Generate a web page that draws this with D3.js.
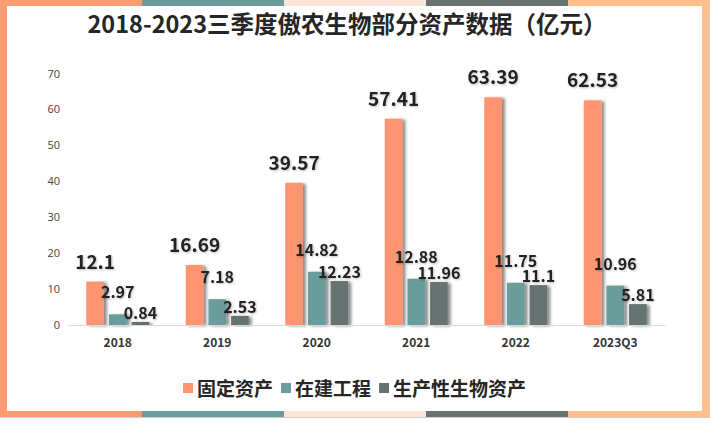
<!DOCTYPE html>
<html>
<head>
<meta charset="utf-8">
<script src="https://cdn.jsdelivr.net/npm/d3@7"></script>
<style>
  html, body { margin: 0; padding: 0; background: #fff; }
  svg { display: block; }
  text { font-family: "Noto Sans CJK SC", "Noto Sans", sans-serif; }
</style>
</head>
<body>
<svg id="chart" width="710" height="425"></svg>
<script>
const categories = ['2018', '2019', '2020', '2021', '2022', '2023Q3'];
const fixedAssets = [12.1, 16.69, 39.57, 57.41, 63.39, 62.53];
const construction = [2.97, 7.18, 14.82, 12.88, 11.75, 10.96];
const bioAssets = [0.84, 2.53, 12.23, 11.96, 11.1, 5.81];
const seriesNames = ['固定资产', '在建工程', '生产性生物资产'];
const yTicks = [0, 10, 20, 30, 40, 50, 60, 70];
const titleText = '2018-2023三季度傲农生物部分资产数据（亿元）';

const colors = ['#FF956F', '#699C9A', '#667371'];
const stripeColors = ['#FF9A73', '#699C9A', '#FCE4D6', '#667371', '#FFBF8C'];
const seriesValues = [fixedAssets, construction, bioAssets];

const svg = d3.select('#chart');

// defs: shadow
const defs = svg.append('defs');
const f = defs.append('filter').attr('id', 'shadow').attr('x', '-30%').attr('y', '-10%').attr('width', '180%').attr('height', '130%');
f.append('feDropShadow').attr('dx', 3).attr('dy', 1).attr('stdDeviation', 1.6)
  .attr('flood-color', '#000').attr('flood-opacity', 0.45);
const tf = defs.append('filter').attr('id', 'tshadow').attr('x', '-10%').attr('y', '-20%').attr('width', '130%').attr('height', '150%');
tf.append('feDropShadow').attr('dx', 1).attr('dy', 1).attr('stdDeviation', 0.8)
  .attr('flood-color', '#000').attr('flood-opacity', 0.25);

// frame
svg.append('rect').attr('x', 0).attr('y', 0).attr('width', 710).attr('height', 425).attr('fill', '#fff');
svg.append('rect').attr('x', 0.5).attr('y', 0.5).attr('width', 709).attr('height', 417)
  .attr('fill', 'none').attr('stroke', '#cfcfcf').attr('stroke-width', 1);
const segW = 710 / stripeColors.length;
stripeColors.forEach((c, i) => {
  svg.append('rect').attr('x', i * segW).attr('y', 0).attr('width', segW).attr('height', 6).attr('fill', c);
  svg.append('rect').attr('x', i * segW).attr('y', 411).attr('width', segW).attr('height', 6).attr('fill', c);
});
svg.append('rect').attr('x', 0).attr('y', 0).attr('width', 7).attr('height', 417).attr('fill', stripeColors[0]);
svg.append('rect').attr('x', 702).attr('y', 0).attr('width', 7).attr('height', 417).attr('fill', stripeColors[4]);

// title
const title = svg.append('text')
  .attr('x', 347).attr('y', 33)
  .attr('text-anchor', 'middle')
  .attr('font-size', 24).attr('font-weight', 'bold').attr('fill', '#262626')
  .text(titleText);
const tw = title.node().getComputedTextLength();
if (Math.abs(tw - 519) > 4) {
  title.attr('textLength', 519).attr('lengthAdjust', 'spacingAndGlyphs');
}

// scales
const x0 = d3.scaleBand().domain(categories).range([68, 665]).padding(0);
const groupW = 63;
const x1 = d3.scaleBand().domain([0, 1, 2]).range([0, groupW]).paddingInner(0.22);
const y = d3.scaleLinear().domain([0, 70]).range([325, 73.5]);
const groupOff = (x0.bandwidth() - groupW) / 2;

// y axis
const yAxis = svg.append('g').attr('transform', 'translate(62,0)')
  .call(d3.axisLeft(y).tickValues(yTicks).tickSize(0).tickPadding(2));
yAxis.select('.domain').remove();
yAxis.selectAll('text').attr('font-size', 11).attr('fill', '#404040')
  .style('font-family', '"Open Sans", "Noto Sans", sans-serif');

// bars
const labelSize = [19, 16, 16];
const labelOffset = [13, 16, 3];
seriesValues.forEach((vals, si) => {
  svg.append('g').selectAll('rect')
    .data(vals)
    .join('rect')
    .attr('x', (d, i) => x0(categories[i]) + groupOff + x1(si))
    .attr('y', d => y(d))
    .attr('width', x1.bandwidth())
    .attr('height', d => y(0) - y(d))
    .attr('fill', colors[si])
    .attr('filter', 'url(#shadow)');
});

// x axis
const xAxis = svg.append('g').attr('transform', 'translate(0,325)')
  .call(d3.axisBottom(x0).tickSize(0).tickSizeOuter(0).tickPadding(13));
xAxis.select('.domain').attr('stroke', '#d9d9d9').attr('stroke-width', 1);
xAxis.selectAll('text').attr('font-size', 12).attr('font-weight', 'bold').attr('fill', '#333');

// labels
seriesValues.forEach((vals, si) => {
  svg.append('g').selectAll('text')
    .data(vals)
    .join('text')
    .attr('x', (d, i) => x0(categories[i]) + groupOff + x1(si) + x1.bandwidth() / 2)
    .attr('y', d => y(d) - labelOffset[si])
    .attr('text-anchor', 'middle')
    .attr('font-size', labelSize[si]).attr('font-weight', 'bold').attr('fill', '#222')
    .attr('filter', 'url(#tshadow)')
    .text(d => d);
});

// legend
const legend = svg.append('g');
let lx = 183;
seriesNames.forEach((name, i) => {
  legend.append('rect').attr('x', lx).attr('y', 383).attr('width', 10).attr('height', 10).attr('fill', colors[i]);
  const t = legend.append('text').attr('x', lx + 14).attr('y', 396)
    .attr('font-size', 19).attr('font-weight', 'bold').attr('fill', '#262626').text(name);
  lx += 14 + t.node().getComputedTextLength() + 8;
});
</script>
</body>
</html>
